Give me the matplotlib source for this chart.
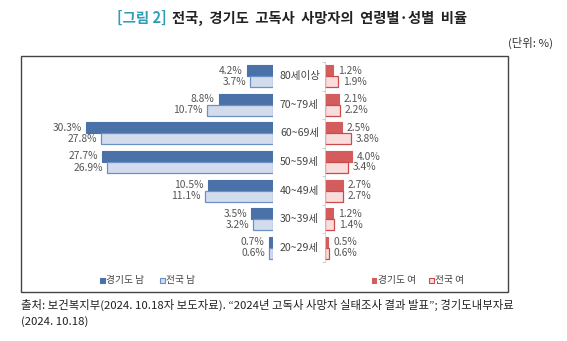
import matplotlib
matplotlib.use("Agg")
import matplotlib.pyplot as plt
from matplotlib.patches import Rectangle

plt.rcParams['font.family'] = ['Noto Sans CJK KR', 'DejaVu Sans']

# 연령대 (위에서 아래 순서)
age_groups = ["80세이상", "70~79세", "60~69세", "50~59세", "40~49세", "30~39세", "20~29세"]
gg_male = [4.2, 8.8, 30.3, 27.7, 10.5, 3.5, 0.7]
nat_male = [3.7, 10.7, 27.8, 26.9, 11.1, 3.2, 0.6]
gg_female = [1.2, 2.1, 2.5, 4.0, 2.7, 1.2, 0.5]
nat_female = [1.9, 2.2, 3.8, 3.4, 2.7, 1.4, 0.6]

W, H = 567, 341
fig = plt.figure(figsize=(W / 100, H / 100), dpi=100)

def fx(px):
    return px / W

def fy(py):
    return 1 - py / H

C_M_DARK = "#4a71a8"
C_M_LIGHT = "#d2dcec"
C_M_EDGE = "#6b90c6"
C_F_DARK = "#d45c5c"
C_F_LIGHT = "#f9dddd"
C_F_EDGE = "#cc4a4a"
TXT = "#555555"

n = len(age_groups)
ypos = [n - 1 - i for i in range(n)]
bh = 0.385
ylim = (-0.49, n - 1 + 0.49)

ax_top, ax_bot = 62, 262
# 남성 (왼쪽, 오른쪽에서 왼쪽으로)
axL = fig.add_axes([fx(60), fy(ax_bot), fx(273 - 60), (ax_bot - ax_top) / H])
axL.set_xlim((273 - 60) / 6.17, 0)
axL.set_ylim(*ylim)
axL.barh([y + bh / 2 for y in ypos], gg_male, height=bh, color=C_M_DARK,
         edgecolor=C_M_DARK, linewidth=0.8)
axL.barh([y - bh / 2 for y in ypos], nat_male, height=bh, color=C_M_LIGHT,
         edgecolor=C_M_EDGE, linewidth=0.9)
for y, a, b in zip(ypos, gg_male, nat_male):
    axL.annotate(f"{a}%", (a, y + bh / 2), xytext=(-3, 0), textcoords="offset points",
                 ha="right", va="center", fontsize=7.4, color=TXT)
    axL.annotate(f"{b}%", (b, y - bh / 2), xytext=(-3, 0), textcoords="offset points",
                 ha="right", va="center", fontsize=7.4, color=TXT)
axL.axis("off")

# 여성 (오른쪽)
axR = fig.add_axes([fx(325), fy(ax_bot), fx(420 - 325), (ax_bot - ax_top) / H])
axR.set_xlim(0, (420 - 325) / 6.75)
axR.set_ylim(*ylim)
axR.barh([y + bh / 2 for y in ypos], gg_female, height=bh, color=C_F_DARK,
         edgecolor=C_F_DARK, linewidth=0.8)
axR.barh([y - bh / 2 for y in ypos], nat_female, height=bh, color=C_F_LIGHT,
         edgecolor=C_F_EDGE, linewidth=0.9)
for y, a, b in zip(ypos, gg_female, nat_female):
    axR.annotate(f"{a}%", (a, y + bh / 2), xytext=(3.5, 0), textcoords="offset points",
                 ha="left", va="center", fontsize=7.4, color=TXT)
    axR.annotate(f"{b}%", (b, y - bh / 2), xytext=(3.5, 0), textcoords="offset points",
                 ha="left", va="center", fontsize=7.4, color=TXT)
for s in ["top", "right", "bottom"]:
    axR.spines[s].set_visible(False)
axR.spines["left"].set_color("#cccccc")
axR.spines["left"].set_linewidth(0.6)
axR.set_xticks([])
axR.set_yticks([y + 0.5 for y in range(-1, n)])
axR.tick_params(axis="y", length=2, width=0.5, color="#bbbbbb", labelleft=False)
axR.patch.set_alpha(0)

# 연령대 라벨
for y, lab in zip(ypos, age_groups):
    fig.text(fx(280), fy(76 + (n - 1 - y) * 28.67), lab, ha="left", va="center",
             fontsize=7.6, color="#444444")

# 테두리
fig.add_artist(Rectangle((fx(21), fy(292)), fx(508 - 21), (292 - 56) / H,
                         transform=fig.transFigure, fill=False,
                         edgecolor="#444444", linewidth=1.0))

# 범례
def legend_item(px, py, face, edge, text):
    s = 5
    fig.add_artist(Rectangle((fx(px - s / 2), fy(py + s / 2)), fx(s), s / H,
                             transform=fig.transFigure, facecolor=face,
                             edgecolor=edge, linewidth=0.8))
    fig.text(fx(px + 4), fy(py), text, ha="left", va="center", fontsize=7,
             color="#444444")

legend_item(102, 280, C_M_DARK, C_M_DARK, "경기도 남")
legend_item(162, 280, C_M_LIGHT, C_M_EDGE, "전국 남")
legend_item(374, 280, C_F_DARK, C_F_DARK, "경기도 여")
legend_item(431, 280, C_F_LIGHT, C_F_EDGE, "전국 여")

# 제목
title_y = fy(18)
fig.text(fx(167), title_y, "[그림 2]", ha="right", va="center", fontsize=10.5,
         fontweight="bold", color="#2e9db8")
fig.text(fx(172), title_y, "전국,  경기도  고독사  사망자의  연령별·성별  비율",
         ha="left", va="center", fontsize=10.3, fontweight="bold", color="#222222")

fig.text(fx(553), fy(43), "(단위: %)", ha="right", va="center", fontsize=8.2,
         color="#333333")

# 출처
fig.text(fx(21), fy(305), "출처: 보건복지부(2024. 10.18자 보도자료). \u201c2024년 고독사 사망자 실태조사 결과 발표\u201d; 경기도내부자료",
         ha="left", va="center", fontsize=8.2, color="#222222")
fig.text(fx(21), fy(322), "(2024. 10.18)", ha="left", va="center", fontsize=8.2,
         color="#222222")

fig.savefig("out.png", dpi=100)
